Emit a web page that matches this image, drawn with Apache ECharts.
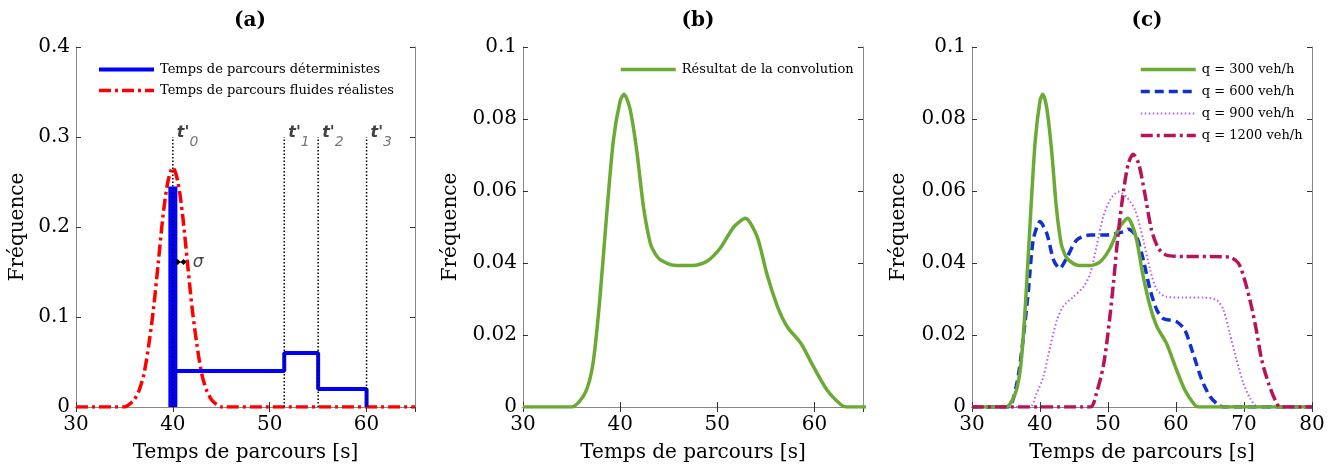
<!DOCTYPE html>
<html>
<head>
<meta charset="utf-8">
<script src="https://cdn.jsdelivr.net/npm/echarts@6/dist/echarts.min.js"></script>
<style>
  html, body { margin: 0; padding: 0; background: #fff; }
  #chart { width: 1341px; height: 472px; }
</style>
</head>
<body>
<div id="chart"></div>
<script>
// (a) temps de parcours fluides réalistes (courbe rouge)
var redX = [30, 35, 35.5, 36, 36.5, 37, 37.5, 38, 38.5, 39, 39.5, 40, 40.5, 41, 41.5, 42, 42.5, 43, 43.5, 44, 44.5, 45, 65];
var redY = [0, 0, 0.003, 0.008, 0.018, 0.036, 0.068, 0.109, 0.161, 0.214, 0.251, 0.266, 0.251, 0.214, 0.161, 0.109, 0.068, 0.036, 0.018, 0.008, 0.003, 0, 0];
// (a) temps de parcours déterministes
var detX = [40, 51.5, 51.5, 55, 55, 60, 60];
var detY = [0.04, 0.04, 0.06, 0.06, 0.02, 0.02, 0];
var barX = 40, barTop = 0.245;
var tMarks = [40, 51.5, 55, 60];
var tSubs = ['0', '1', '2', '3'];
var tTop = 0.3;
var sigmaY = 0.161;

// (b) résultat de la convolution  (= q 300 veh/h dans (c))
var convX = [30, 35, 36.4, 37.2, 37.9, 38.6, 39.3, 40, 40.4, 41, 41.7, 42.4, 43.1, 43.6, 44.1, 45.5, 47.5, 48.9, 50.3, 51.7, 52.9, 54.1, 55.1, 56.2, 57.2, 58.6, 59.9, 61.3, 62.7, 63.3, 80];
var convY = [0, 0, 0.0039, 0.012, 0.0297, 0.053, 0.074, 0.085, 0.0869, 0.083, 0.0714, 0.0556, 0.0455, 0.0426, 0.041, 0.0394, 0.0393, 0.0404, 0.0441, 0.050, 0.0524, 0.0473, 0.037, 0.0279, 0.0223, 0.0177, 0.0112, 0.0047, 0.0007, 0, 0];

// (c) autres débits
var q600X = [30, 35.3, 36.6, 37.5, 38.3, 39, 40, 41, 42, 42.9, 43.9, 45.4, 47.4, 49.8, 52.3, 53, 54.2, 55.2, 56.2, 57.2, 58.1, 60.1, 61.3, 62.5, 63.8, 65, 66.2, 67, 80];
var q600Y = [0, 0, 0.0066, 0.0186, 0.0325, 0.0464, 0.0515, 0.0482, 0.0408, 0.0385, 0.0413, 0.0464, 0.0478, 0.0478, 0.0487, 0.0494, 0.0473, 0.0408, 0.0325, 0.0269, 0.0246, 0.0237, 0.0214, 0.0149, 0.0075, 0.0029, 0.0006, 0, 0];
var q900X = [30, 38.5, 39.5, 40.5, 41.5, 42.5, 43.4, 44.9, 46.4, 47.4, 48.3, 49.3, 50.3, 51.5, 52.7, 54, 55.2, 56.2, 57.2, 58.6, 61.1, 64, 66, 67, 67.9, 68.9, 69.9, 70.9, 71.9, 80];
var q900Y = [0, 0, 0.0038, 0.0084, 0.0168, 0.0242, 0.0279, 0.0306, 0.0334, 0.0371, 0.0445, 0.0529, 0.0575, 0.0598, 0.0584, 0.0547, 0.0464, 0.0381, 0.0325, 0.0306, 0.0304, 0.0304, 0.0297, 0.0269, 0.0205, 0.0131, 0.0066, 0.0024, 0.0003, 0];
var q1200X = [30, 47.4, 48.3, 49.3, 50, 50.8, 51.5, 52.3, 53, 53.7, 54.5, 55.4, 56.4, 57.4, 58.6, 61.1, 65, 67.9, 69.2, 70.1, 71.1, 71.9, 72.6, 73.6, 74.6, 75.3, 80];
var q1200Y = [0, 0, 0.0038, 0.0112, 0.0205, 0.0344, 0.0482, 0.0603, 0.0677, 0.0702, 0.0677, 0.0594, 0.0492, 0.0441, 0.0422, 0.0418, 0.0418, 0.0416, 0.0399, 0.0353, 0.0279, 0.0205, 0.0131, 0.0066, 0.0019, 0, 0];

var FONT = 'DejaVu Serif';

function zip(xs, ys) {
    return xs.map(function (x, i) { return [x, ys[i]]; });
}

var grids = [
    { left: 76, top: 47, width: 339, height: 360 },
    { left: 523, top: 47, width: 340, height: 360 },
    { left: 972, top: 47, width: 340, height: 360 }
];
var xMax = [65, 65, 80];
var yMax = [0.4, 0.1, 0.1];
var yStep = [0.1, 0.02, 0.02];
var yGap = [48, 62, 63];

var xAxes = [], yAxes = [];
grids.forEach(function (g, i) {
    xAxes.push({
        gridIndex: i, type: 'value', min: 30, max: xMax[i], interval: 10,
        name: 'Temps de parcours [s]', nameLocation: 'middle', nameGap: 36,
        nameTextStyle: { fontFamily: FONT, fontSize: 20, color: '#000' },
        axisLine: { lineStyle: { color: '#000', width: 1 } },
        axisTick: { inside: true, length: 5, lineStyle: { color: '#333' } },
        axisLabel: { fontFamily: FONT, fontSize: 20, color: '#000', margin: 8, showMaxLabel: i === 2 },
        splitLine: { show: false }
    });
    xAxes.push({
        gridIndex: i, type: 'value', position: 'top', min: 30, max: xMax[i], interval: 10,
        axisLine: { lineStyle: { color: '#888' } },
        axisTick: { inside: true, length: 5, lineStyle: { color: '#333' } },
        axisLabel: { show: false }, splitLine: { show: false }
    });
    yAxes.push({
        gridIndex: i, type: 'value', min: 0, max: yMax[i], interval: yStep[i],
        name: 'Fréquence', nameLocation: 'middle', nameGap: yGap[i],
        nameTextStyle: { fontFamily: FONT, fontSize: 20, color: '#000' },
        axisLine: { show: true, lineStyle: { color: '#888' } },
        axisTick: { show: true, inside: true, length: 5, lineStyle: { color: '#333' } },
        axisLabel: { fontFamily: FONT, fontSize: 20, color: '#000', margin: 6 },
        splitLine: { show: false }
    });
    yAxes.push({
        gridIndex: i, type: 'value', position: 'right', min: 0, max: yMax[i], interval: yStep[i],
        axisLine: { show: true, lineStyle: { color: '#888' } },
        axisTick: { show: true, inside: true, length: 5, lineStyle: { color: '#333' } },
        axisLabel: { show: false }, splitLine: { show: false }
    });
});

function line(name, gi, data, color, width, type, extra) {
    var s = {
        name: name, type: 'line', xAxisIndex: gi * 2, yAxisIndex: gi * 2,
        data: data, showSymbol: false, symbol: 'none',
        lineStyle: { color: color, width: width, type: type || 'solid' },
        itemStyle: { color: color }, animation: false
    };
    for (var k in extra) s[k] = extra[k];
    return s;
}

// lignes verticales pointillées t'
var dotData = [];
tMarks.forEach(function (t) {
    dotData.push([t, 0], [t, tTop], [t, '-']);
});

var series = [
    line('Temps de parcours fluides réalistes', 0, zip(redX, redY), '#ff0000', 3.5, [12, 4, 3, 4], { smooth: 0.3 }),
    line('bar40', 0, [[barX, 0], [barX, barTop]], '#0000ff', 9, 'solid', { lineStyle: { color: '#0000ff', width: 9, cap: 'butt' } }),
    line('Temps de parcours déterministes', 0, zip(detX, detY), '#0000ff', 4, 'solid'),
    line('dots', 0, dotData, '#000', 1.5, [1.5, 2], { connectNulls: false }),
    line('sigma', 0, [[barX + 0.5, sigmaY], [barX + 1.1, sigmaY]], '#000', 1, 'solid',
        { showSymbol: true, symbol: 'diamond', symbolSize: 6 }),
    {
        name: 'tlabels', type: 'scatter', xAxisIndex: 0, yAxisIndex: 0, symbolSize: 0,
        data: tMarks.map(function (t) { return [t, tTop]; }),
        label: {
            show: true, position: 'right', distance: 4,
            formatter: function (p) { return '{t|t\'}{s|' + tSubs[p.dataIndex] + '}'; },
            rich: {
                t: { fontFamily: 'DejaVu Sans', fontStyle: 'italic', fontWeight: 'bold', fontSize: 16, color: '#111', verticalAlign: 'top', padding: [0, 0, 8, 0] },
                s: { fontFamily: 'DejaVu Sans', fontStyle: 'italic', fontSize: 14, color: '#555', verticalAlign: 'bottom', padding: [10, 0, 0, 0] }
            }
        },
        animation: false
    },
    {
        name: 'sigmaLabel', type: 'scatter', xAxisIndex: 0, yAxisIndex: 0, symbolSize: 0,
        data: [[barX + 2.6, sigmaY]],
        label: { show: true, position: 'inside', formatter: 'σ', fontFamily: 'DejaVu Sans', fontStyle: 'italic', fontSize: 17, color: '#111' },
        animation: false
    },
    line('Résultat de la convolution', 1, zip(convX, convY), '#6aaa35', 3.5, 'solid', { smooth: 0.25 }),
    line('q = 900 veh/h', 2, zip(q900X, q900Y), '#b35cff', 2, [1.5, 2.5], { smooth: 0.25 }),
    line('q = 600 veh/h', 2, zip(q600X, q600Y), '#1030d0', 3.5, [9, 5], { smooth: 0.25 }),
    line('q = 300 veh/h', 2, zip(convX, convY), '#6aaa35', 3.5, 'solid', { smooth: 0.25 }),
    line('q = 1200 veh/h', 2, zip(q1200X, q1200Y), '#b8125a', 3.5, [12, 4, 3, 4], { smooth: 0.25 })
];

var legendText = { fontFamily: FONT, fontSize: 13, color: '#000', padding: [0, 0, 0, 1] };
var legendCommon = {
    orient: 'vertical', itemWidth: 55, itemHeight: 12, textStyle: legendText,
    selectedMode: false, itemStyle: { opacity: 0 }
};
function legend(names, widths, left, top, gap) {
    var l = {
        data: names.map(function (n, i) { return { name: n, lineStyle: { width: widths[i] } }; }),
        left: left, top: top, itemGap: gap
    };
    for (var k in legendCommon) l[k] = legendCommon[k];
    return l;
}

var chart = echarts.init(document.getElementById('chart'), null, { renderer: 'canvas' });
chart.setOption({
    backgroundColor: '#fff',
    animation: false,
    title: [
        { text: '(a)', left: 245, top: 6, textAlign: 'center', textStyle: { fontFamily: FONT, fontSize: 20, fontWeight: 'bold', color: '#000' } },
        { text: '(b)', left: 693, top: 6, textAlign: 'center', textStyle: { fontFamily: FONT, fontSize: 20, fontWeight: 'bold', color: '#000' } },
        { text: '(c)', left: 1142, top: 6, textAlign: 'center', textStyle: { fontFamily: FONT, fontSize: 20, fontWeight: 'bold', color: '#000' } }
    ],
    grid: grids,
    xAxis: xAxes,
    yAxis: yAxes,
    legend: [
        legend(['Temps de parcours déterministes', 'Temps de parcours fluides réalistes'], [4, 3.5], 92, 58, 8),
        legend(['Résultat de la convolution'], [3.5], 614, 58, 8),
        legend(['q = 300 veh/h', 'q = 600 veh/h', 'q = 900 veh/h', 'q = 1200 veh/h'], [3.5, 3.5, 2, 3.5], 1134, 58, 9)
    ],
    series: series
});
</script>
</body>
</html>
